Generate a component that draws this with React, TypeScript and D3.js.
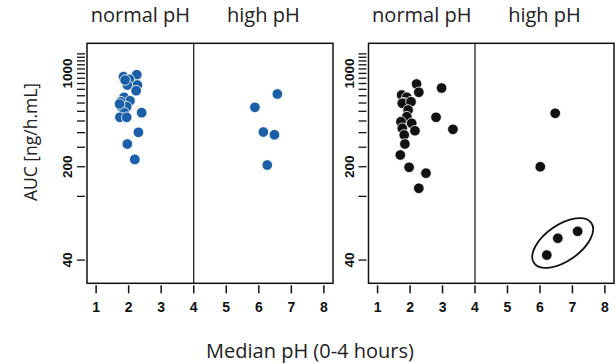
import * as d3 from 'd3'

// x tick values and y (log) tick values
const xTicks = [1, 2, 3, 4, 5, 6, 7, 8]
const yTicks = d3.range(40, 1401, 80)
const yLabels = [40, 200, 1000]
const groupTitles = ['normal pH', 'high pH']

// panel 1 (blue)
const blueNormalPH = [1.84, 2.25, 2.02, 2.27, 1.96, 2.23, 1.86, 2.04, 1.76, 1.77, 1.94, 1.86, 1.73, 1.94, 2.4, 2.3, 1.96, 2.19, 1.72, 1.89]
const blueNormalAUC = [945, 978, 903, 819, 819, 742, 662, 624, 614, 563, 563, 508, 469, 469, 508, 362, 296, 227, 590, 892]
const blueHighPH = [6.57, 5.88, 6.14, 6.48, 6.26]
const blueHighAUC = [701, 557, 364, 347, 206]

// panel 2 (black)
const blackNormalPH = [2.2, 2.27, 2.97, 1.74, 1.9, 1.81, 1.76, 2.03, 1.94, 1.9, 1.72, 2.05, 1.76, 2.15, 1.82, 2.8, 3.32, 1.84, 1.7, 1.97, 2.49, 2.27]
const blackNormalAUC = [833, 722, 777, 689, 662, 603, 597, 614, 532, 474, 435, 423, 388, 372, 346, 469, 381, 296, 245, 198, 179, 138]
const blackHighPH = [6.47, 6.01, 7.16, 6.55, 6.21]
const blackHighAUC = [503, 200, 65.7, 58.3, 43.6]

// circled group in panel 2
const circleCenter = { ph: 6.7, auc: 53.7 }

const top = 43.3
const bottom = 283.3
const tickFont = '"Liberation Sans", Arial, sans-serif'
const titleFont = '"Open Sans", "DejaVu Sans", sans-serif'

function Panel({ left, right, ph, auc, color, ellipse }: any) {
  const x = d3.scaleLinear().domain([0.72, 8.28]).range([left, right])
  const y = d3.scaleLog().domain([26.8, 1680]).range([bottom, top])
  const pts = ph.map((p: number, i: number) => ({ p, a: auc[i] }))
  return (
    <g>
      {groupTitles.map((t, i) => (
        <text key={t} x={i === 0 ? (x(0.72) + x(4)) / 2 : (x(4) + x(8.28)) / 2} y={22}
          textAnchor="middle" fontFamily={titleFont} fontSize={20} fill="#222">{t}</text>
      ))}
      <rect x={left} y={top} width={right - left} height={bottom - top} fill="white" stroke="#111" strokeWidth={1.5} />
      <line x1={x(4)} x2={x(4)} y1={top} y2={bottom} stroke="#111" strokeWidth={1.2} />
      {xTicks.map(t => (
        <g key={t}>
          <line x1={x(t)} x2={x(t)} y1={bottom + 2} y2={bottom + 10} stroke="#111" strokeWidth={1.5} />
          <text x={x(t)} y={312} textAnchor="middle" fontFamily={tickFont} fontWeight="bold" fontSize={14} fill="#111">{t}</text>
        </g>
      ))}
      {yTicks.map(t => (
        <line key={t} x1={left - 10} x2={left - 2} y1={y(t)} y2={y(t)} stroke="#111" strokeWidth={1.3} />
      ))}
      {yLabels.map(t => (
        <text key={t} transform={`translate(${left - 15},${y(t)}) rotate(-90)`} textAnchor="middle"
          fontFamily={tickFont} fontWeight="bold" fontSize={13.5} fill="#111">{t}</text>
      ))}
      {pts.map((d: any, i: number) => (
        <circle key={i} cx={x(d.p)} cy={y(d.a)} r={5.3} fill={color} stroke="white" strokeWidth={0.8} />
      ))}
      {ellipse && (
        <ellipse transform={`translate(${x(ellipse.ph)},${y(ellipse.auc)}) rotate(-35)`} rx={35} ry={18}
          fill="none" stroke="#111" strokeWidth={1.8} />
      )}
    </g>
  )
}

export default function App() {
  return (
    <svg width={616} height={364} style={{ position: 'absolute', left: 0, top: 0, background: 'white' }}>
      <Panel left={87} right={333} color="#1b5fa8"
        ph={[...blueNormalPH, ...blueHighPH]} auc={[...blueNormalAUC, ...blueHighAUC]} />
      <Panel left={368.5} right={614} color="#111"
        ph={[...blackNormalPH, ...blackHighPH]} auc={[...blackNormalAUC, ...blackHighAUC]} ellipse={circleCenter} />
      <text transform="translate(37,142) rotate(-90)" textAnchor="middle" fontFamily={titleFont} fontSize={17.5} fill="#222">AUC [ng/h.mL]</text>
      <text x={310} y={358} textAnchor="middle" fontFamily={titleFont} fontSize={20} fill="#222">Median pH (0-4 hours)</text>
    </svg>
  )
}
